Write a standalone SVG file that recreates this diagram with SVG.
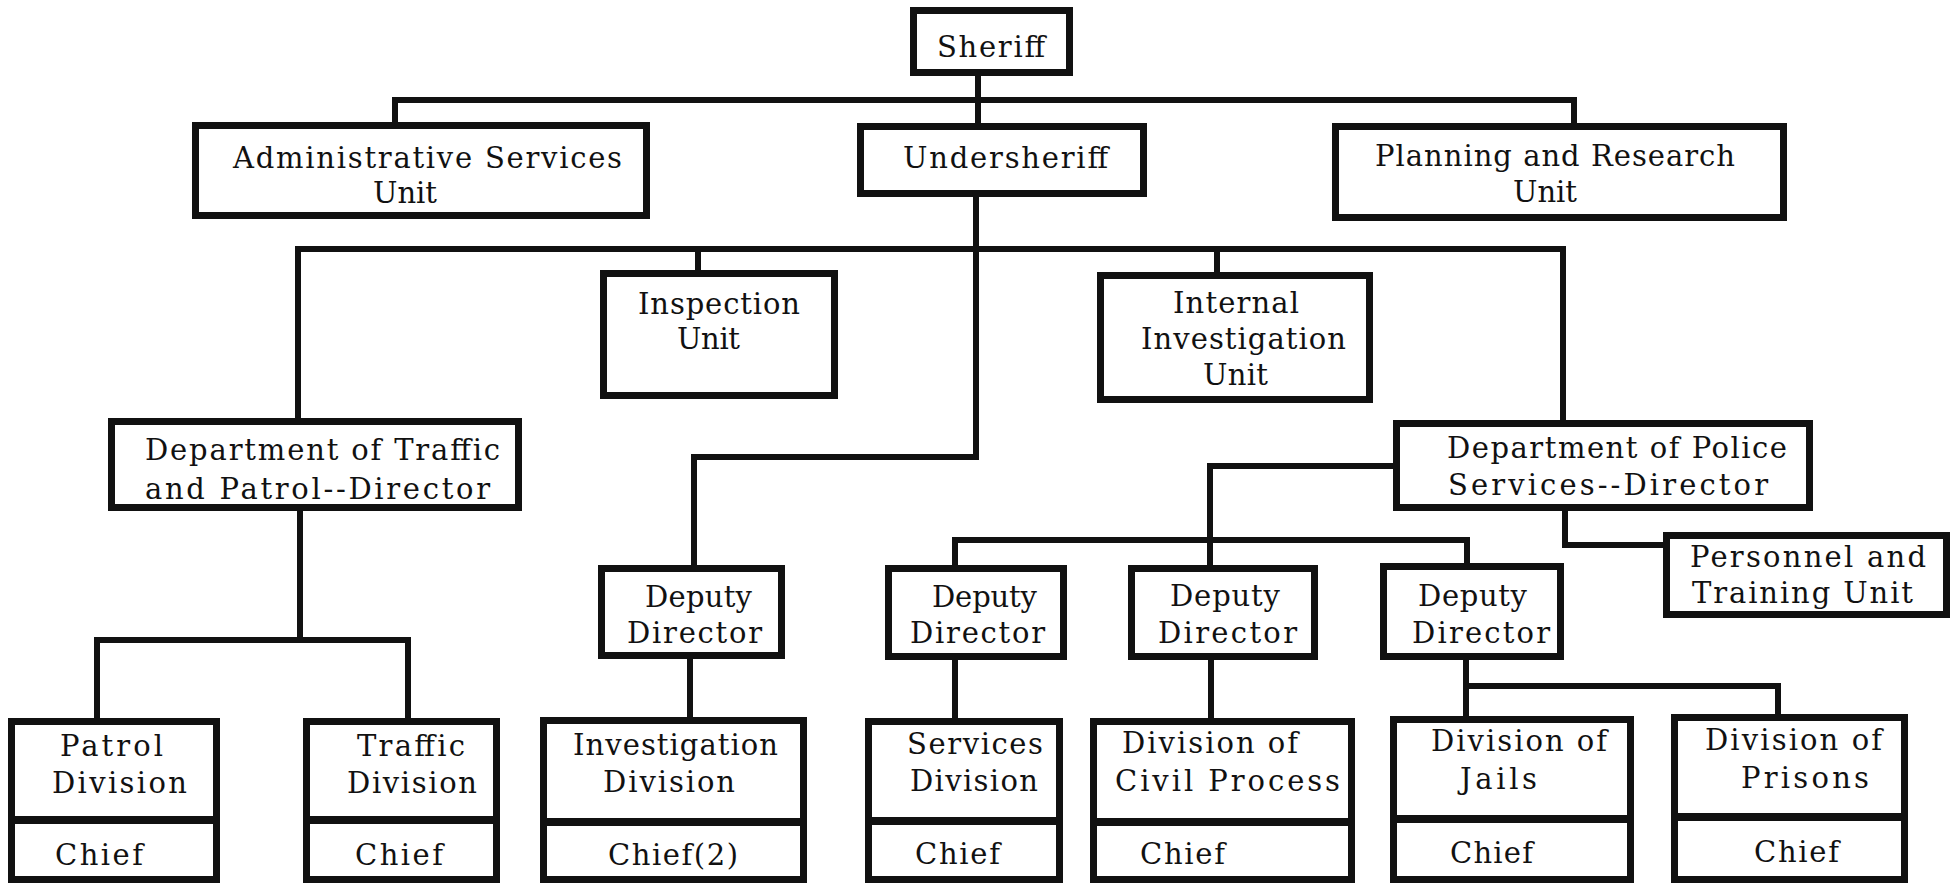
<svg xmlns="http://www.w3.org/2000/svg" width="1960" height="884" viewBox="0 0 1960 884">
<style>
.bx{fill:#fff;stroke:#111;stroke-width:7}
.dv{stroke:#111;stroke-width:8}
.cn{fill:none;stroke:#111;stroke-width:6;stroke-linecap:square;stroke-linejoin:miter}
text{font-family:"DejaVu Serif","Liberation Serif",serif;font-size:29px;fill:#111}
</style>
<rect width="1960" height="884" fill="#fff"/>
<g id="connectors">
<path class="cn" d="M978 76 V123"/>
<path class="cn" d="M395 122 V100 H1574 V123"/>
<path class="cn" d="M976 197 V457 H694 V565"/>
<path class="cn" d="M298 418 V249 H1563 V420"/>
<path class="cn" d="M698 249 V270"/>
<path class="cn" d="M1217 249 V272"/>
<path class="cn" d="M300 511 V640"/>
<path class="cn" d="M97 718 V640 H408 V718"/>
<path class="cn" d="M690 659 V717"/>
<path class="cn" d="M1393 466 H1210 V565"/>
<path class="cn" d="M955 565 V540 H1467 V563"/>
<path class="cn" d="M1565 511 V545 H1663"/>
<path class="cn" d="M955 660 V718"/>
<path class="cn" d="M1211 660 V718"/>
<path class="cn" d="M1466 660 V716"/>
<path class="cn" d="M1466 686 H1778 V714"/>
</g>
<g id="sheriff"><rect class="bx" x="913.5" y="10.5" width="156" height="62"/><text x="937" y="57" textLength="108" lengthAdjust="spacing">Sheriff</text></g>
<g id="admin"><rect class="bx" x="195.5" y="125.5" width="451" height="90"/><text x="233" y="168" textLength="389" lengthAdjust="spacing">Administrative Services</text><text x="373" y="203" textLength="64" lengthAdjust="spacing">Unit</text></g>
<g id="undersheriff"><rect class="bx" x="860.5" y="126.5" width="283" height="67"/><text x="903" y="168" textLength="205" lengthAdjust="spacing">Undersheriff</text></g>
<g id="planning"><rect class="bx" x="1335.5" y="126.5" width="448" height="91"/><text x="1375" y="166" textLength="360" lengthAdjust="spacing">Planning and Research</text><text x="1513" y="202" textLength="64" lengthAdjust="spacing">Unit</text></g>
<g id="inspection"><rect class="bx" x="603.5" y="273.5" width="231" height="122"/><text x="638" y="314" textLength="162" lengthAdjust="spacing">Inspection</text><text x="677" y="349" textLength="63" lengthAdjust="spacing">Unit</text></g>
<g id="internal"><rect class="bx" x="1100.5" y="275.5" width="269" height="124"/><text x="1173" y="313" textLength="126" lengthAdjust="spacing">Internal</text><text x="1141" y="349" textLength="205" lengthAdjust="spacing">Investigation</text><text x="1203" y="385" textLength="65" lengthAdjust="spacing">Unit</text></g>
<g id="dept-traffic"><rect class="bx" x="111.5" y="421.5" width="407" height="86"/><text x="145" y="460" textLength="355" lengthAdjust="spacing">Department of Traffic</text><text x="145" y="499" textLength="345" lengthAdjust="spacing">and Patrol--Director</text></g>
<g id="dept-police"><rect class="bx" x="1396.5" y="423.5" width="413" height="84"/><text x="1447" y="458" textLength="340" lengthAdjust="spacing">Department of Police</text><text x="1448" y="495" textLength="320" lengthAdjust="spacing">Services--Director</text></g>
<g id="deputy1"><rect class="bx" x="601.5" y="568.5" width="180" height="87"/><text x="645" y="607" textLength="107" lengthAdjust="spacing">Deputy</text><text x="627" y="643" textLength="135" lengthAdjust="spacing">Director</text></g>
<g id="deputy2"><rect class="bx" x="888.5" y="568.5" width="175" height="88"/><text x="932" y="607" textLength="105" lengthAdjust="spacing">Deputy</text><text x="910" y="643" textLength="135" lengthAdjust="spacing">Director</text></g>
<g id="deputy3"><rect class="bx" x="1131.5" y="568.5" width="183" height="88"/><text x="1170" y="606" textLength="110" lengthAdjust="spacing">Deputy</text><text x="1158" y="643" textLength="139" lengthAdjust="spacing">Director</text></g>
<g id="deputy4"><rect class="bx" x="1383.5" y="566.5" width="177" height="90"/><text x="1418" y="606" textLength="109" lengthAdjust="spacing">Deputy</text><text x="1412" y="643" textLength="138" lengthAdjust="spacing">Director</text></g>
<g id="personnel"><rect class="bx" x="1666.5" y="535.5" width="280" height="79"/><text x="1690" y="567" textLength="236" lengthAdjust="spacing">Personnel and</text><text x="1692" y="603" textLength="221" lengthAdjust="spacing">Training Unit</text></g>
<g id="patrol"><rect class="bx" x="11.5" y="721.5" width="205" height="158"/><line class="dv" x1="11" y1="820" x2="217" y2="820"/><text x="60" y="756" textLength="103" lengthAdjust="spacing">Patrol</text><text x="52" y="793" textLength="135" lengthAdjust="spacing">Division</text><text x="55" y="865" textLength="88" lengthAdjust="spacing">Chief</text></g>
<g id="traffic"><rect class="bx" x="306.5" y="721.5" width="190" height="158"/><line class="dv" x1="306" y1="820" x2="497" y2="820"/><text x="357" y="756" textLength="108" lengthAdjust="spacing">Traffic</text><text x="347" y="793" textLength="130" lengthAdjust="spacing">Division</text><text x="355" y="865" textLength="88" lengthAdjust="spacing">Chief</text></g>
<g id="investigation"><rect class="bx" x="543.5" y="720.5" width="260" height="159"/><line class="dv" x1="543" y1="822" x2="804" y2="822"/><text x="573" y="755" textLength="205" lengthAdjust="spacing">Investigation</text><text x="603" y="792" textLength="132" lengthAdjust="spacing">Division</text><text x="608" y="865" textLength="130" lengthAdjust="spacing">Chief(2)</text></g>
<g id="services"><rect class="bx" x="868.5" y="721.5" width="191" height="158"/><line class="dv" x1="868" y1="821" x2="1060" y2="821"/><text x="907" y="754" textLength="136" lengthAdjust="spacing">Services</text><text x="910" y="791" textLength="128" lengthAdjust="spacing">Division</text><text x="915" y="864" textLength="85" lengthAdjust="spacing">Chief</text></g>
<g id="civil"><rect class="bx" x="1093.5" y="721.5" width="258" height="158"/><line class="dv" x1="1093" y1="822" x2="1352" y2="822"/><text x="1122" y="753" textLength="176" lengthAdjust="spacing">Division of</text><text x="1115" y="791" textLength="225" lengthAdjust="spacing">Civil Process</text><text x="1140" y="864" textLength="85" lengthAdjust="spacing">Chief</text></g>
<g id="jails"><rect class="bx" x="1393.5" y="719.5" width="237" height="160"/><line class="dv" x1="1393" y1="819" x2="1631" y2="819"/><text x="1431" y="751" textLength="176" lengthAdjust="spacing">Division of</text><text x="1460" y="789" textLength="77" lengthAdjust="spacing">Jails</text><text x="1450" y="863" textLength="83" lengthAdjust="spacing">Chief</text></g>
<g id="prisons"><rect class="bx" x="1674.5" y="717.5" width="230" height="162"/><line class="dv" x1="1674" y1="817" x2="1905" y2="817"/><text x="1705" y="750" textLength="177" lengthAdjust="spacing">Division of</text><text x="1741" y="788" textLength="128" lengthAdjust="spacing">Prisons</text><text x="1754" y="862" textLength="85" lengthAdjust="spacing">Chief</text></g>
</svg>
